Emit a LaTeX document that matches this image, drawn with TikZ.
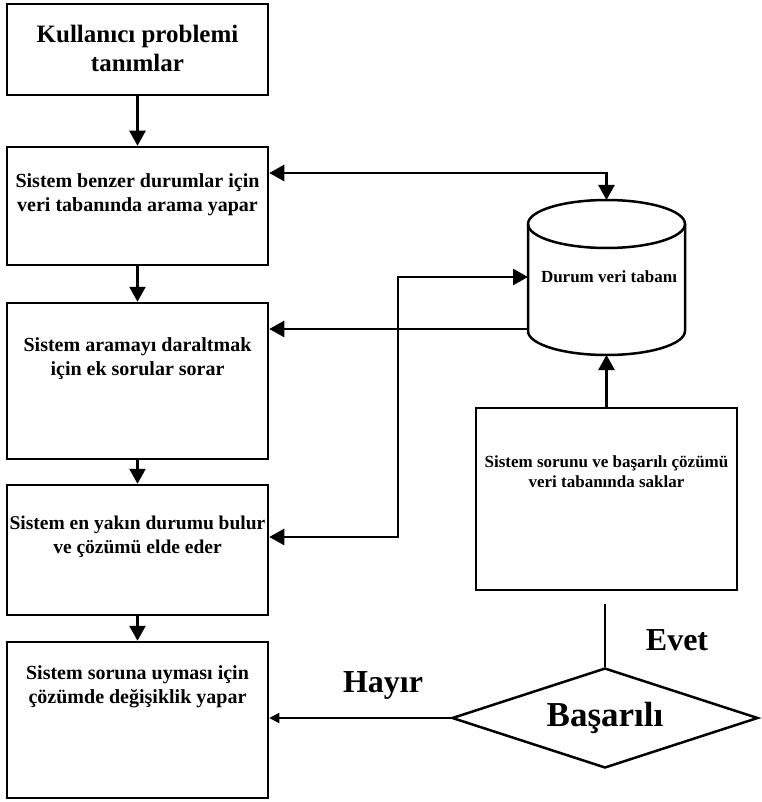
\documentclass[tikz,border=0pt]{standalone}
\usepackage{fontspec}
\setmainfont{Liberation Serif}
\usetikzlibrary{arrows.meta,shapes.geometric}

\begin{document}
\begin{tikzpicture}[x=1pt,y=-1pt,
        box/.style={draw, line width=2.5pt, minimum width=261pt, inner sep=0pt},
        txt/.style={align=center, font=\bfseries\fontsize{20}{24}\selectfont},
        arr/.style={line width=2.5pt, -{Triangle[width=16pt,length=15pt]}},
        twoarr/.style={line width=2.5pt, {Triangle[width=16pt,length=15pt]}-{Triangle[width=16pt,length=15pt]}},
        thinarr/.style={line width=1.5pt, -{Triangle[width=10pt,length=10pt]}}]
        \useasboundingbox (0,0) rectangle (761,802);

        % Left column of steps
        \node[box, minimum height=91pt] (b1) at (137.5,49.5) {};
        \node[box, minimum height=118pt] (b2) at (137.5,206) {};
        \node[box, minimum height=156pt] (b3) at (137.5,381) {};
        \node[box, minimum height=130pt] (b4) at (137.5,550) {};
        \node[box, minimum height=156pt] (b5) at (137.5,720) {};
        \node[txt, font=\bfseries\fontsize{25}{29}\selectfont] (t1) at (137.5,48) {Kullanıcı problemi\\tanımlar};
        \node[txt] (t2) at (137.5,195) {Sistem benzer durumlar için\\veri tabanında arama yapar};
        \node[txt] (t3) at (137.5,359) {Sistem aramayı daraltmak\\için ek sorular sorar};
        \node[txt, font=\bfseries\fontsize{19.5}{24}\selectfont] (t4) at (137.5,537) {Sistem en yakın durumu bulur\\ve çözümü elde eder};
        \node[txt] (t5) at (137.5,687) {Sistem soruna uyması için\\çözümde değişiklik yapar};

        % Database
        \draw[line width=2.5pt, fill=white] (528,224) -- (528,331) arc (180:0:78.5 and 24) -- (685,224);
        \draw[line width=2.5pt] (606.5,224) ellipse (78.5 and 24);
        \coordinate (dbtop) at (606.5,200);
        \coordinate (dbbot) at (606.5,355);
        \coordinate (dbleft) at (528,277);
        \node[font=\bfseries\fontsize{17}{20}\selectfont] (db) at (609,277) {Durum veri tabanı};

        % Right column
        \node[box, minimum height=182pt] (b6) at (606.5,499) {};
        \node[txt, font=\bfseries\fontsize{17}{20}\selectfont] (t6) at (606.5,472) {Sistem sorunu ve başarılı çözümü\\veri tabanında saklar};
        \node[draw, diamond, aspect=3, line width=2.5pt, minimum width=306pt, minimum height=100pt, inner sep=0pt,
              font=\bfseries\fontsize{35}{40}\selectfont] (dec) at (605,718) {Başarılı};

        % Connections
        \draw[arr] (b1) -- (b2);
        \draw[arr] (b2) -- (b3);
        \draw[arr] (b3) -- (b4);
        \draw[arr] (b4) -- (b5);
        \draw[twoarr] (b2.east |- 0,173) -| (dbtop);
        \draw[arr] (dbleft |- 0,329) -- (b3.east |- 0,329);
        \draw[twoarr] (b4.east |- 0,537) -- (398,537) |- (dbleft);
        \draw[arr] (b6) -- (dbbot);
        \draw[line width=1.5pt] (dec.north) -- ++(0,-63);
        \draw[thinarr] (dec.west) -- (b5.east |- dec.west);
        \node[font=\bfseries\fontsize{32}{36}\selectfont] (yes) at (677,640) {Evet};
        \node[font=\bfseries\fontsize{32}{36}\selectfont] (no) at (383,685) {Hayır};
    \end{tikzpicture}
\end{document}
